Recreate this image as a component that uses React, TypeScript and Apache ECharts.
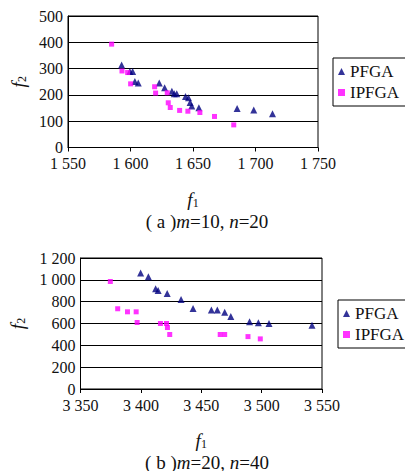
import React, { useEffect, useRef } from "react";
import * as echarts from "echarts";

// Chart (a): m=10, n=20
const aPFGA: [number, number][] = [
  [1592.9, 314], [1599.5, 289], [1601.7, 289], [1603.5, 251], [1606.2, 245],
  [1623.0, 245], [1627.3, 227], [1633.1, 214], [1635.0, 204], [1637.0, 204],
  [1644.0, 194], [1646.4, 189], [1647.7, 171], [1649.0, 158], [1654.7, 151],
  [1685.3, 148], [1698.6, 143], [1713.6, 128],
];
const aIPFGA: [number, number][] = [
  [1584.9, 393], [1593.2, 291], [1597.7, 285], [1600.1, 242], [1619.3, 231],
  [1620.1, 207], [1629.4, 208], [1630.2, 170], [1631.8, 152], [1639.3, 141],
  [1645.9, 138], [1655.5, 133], [1667.2, 118], [1682.6, 86],
];

// Chart (b): m=20, n=40
const bPFGA: [number, number][] = [
  [3399.8, 1062], [3406.2, 1028], [3412.2, 918], [3414.3, 903], [3421.8, 875],
  [3433.3, 820], [3443.2, 737], [3458.4, 723], [3463.3, 723], [3469.4, 704],
  [3474.5, 664], [3490.0, 615], [3497.3, 606], [3506.1, 600], [3541.7, 585],
];
const bIPFGA: [number, number][] = [
  [3374.7, 985], [3380.8, 735], [3388.9, 707], [3396.1, 707], [3396.9, 609],
  [3416.2, 600], [3421.2, 600], [3422.0, 563], [3423.9, 499], [3465.7, 499],
  [3469.4, 499], [3488.7, 480], [3498.9, 459],
];

const seriesNames = ["PFGA", "IPFGA"];
const xRangeA = [1550, 1750];
const yRangeA = [0, 500];
const xRangeB = [3350, 3550];
const yRangeB = [0, 1200];
const captionA = "( a ){i|m}=10, {i|n}=20";
const captionB = "( b ){i|m}=20, {i|n}=40";

const FONT = "Liberation Serif";
const TXT = "#111";
const NAVY = "#000080";
const MAGENTA = "#ff00ff";

const fmt = (v: number) => String(v).replace(/\B(?=(\d{3})+(?!\d))/g, " ");

const nameRich = {
  i: { fontStyle: "italic", fontFamily: FONT, fontSize: 19, color: TXT, lineHeight: 20 },
  s: { fontFamily: FONT, fontSize: 12, color: TXT, lineHeight: 20, padding: [7, 0, 0, 0] },
};

function xAxis(gridIndex: number, range: number[], gap: number) {
  return {
    type: "value",
    gridIndex,
    min: range[0],
    max: range[1],
    interval: 50,
    name: "{i|f}{s|1}",
    nameLocation: "middle",
    nameGap: gap,
    nameTextStyle: { fontFamily: FONT, rich: nameRich },
    axisLine: { show: true, lineStyle: { color: "#000", width: 1 } },
    axisTick: { show: true, length: 4, lineStyle: { color: "#000" } },
    axisLabel: { formatter: fmt, fontFamily: FONT, fontSize: 16, color: TXT, margin: 8 },
    splitLine: { show: false },
  };
}

function yAxis(gridIndex: number, range: number[], interval: number, gap: number) {
  return {
    type: "value",
    gridIndex,
    min: range[0],
    max: range[1],
    interval,
    name: "{i|f}{s|2}",
    nameLocation: "middle",
    nameRotate: 90,
    nameGap: gap,
    nameTextStyle: { fontFamily: FONT, rich: nameRich },
    axisLine: { show: true, lineStyle: { color: "#000", width: 1 } },
    axisTick: { show: false },
    axisLabel: { formatter: fmt, fontFamily: FONT, fontSize: 16, color: TXT, margin: 5 },
    splitLine: { show: true, lineStyle: { color: "#000", width: 1 } },
  };
}

function legend(left: number, top: number) {
  return {
    orient: "vertical",
    left,
    top,
    data: seriesNames,
    backgroundColor: "#fff",
    borderColor: "#000",
    borderWidth: 1,
    borderRadius: 0,
    padding: [5, 12, 5, 5],
    itemWidth: 7,
    itemHeight: 7,
    itemGap: 4,
    textStyle: { fontFamily: FONT, fontSize: 17, color: TXT, lineHeight: 17 },
    selectedMode: false,
  };
}

export default function App() {
  const ref = useRef<HTMLDivElement>(null);
  useEffect(() => {
    document.body.style.margin = "0";
    if (!ref.current) return;
    const chart = echarts.init(ref.current, null, { renderer: "svg" });
    const tri = { symbol: "triangle", symbolSize: 7, itemStyle: { color: NAVY } };
    const sq = { symbol: "rect", symbolSize: 5, itemStyle: { color: MAGENTA } };
    const captionStyle = (text: string) => ({
      text,
      align: "center",
      verticalAlign: "middle",
      fontFamily: FONT,
      fontSize: 19,
      fill: TXT,
      rich: { i: { fontStyle: "italic", fontFamily: FONT, fontSize: 19, fill: TXT } },
    });
    chart.setOption({
      animation: false,
      backgroundColor: "#fff",
      textStyle: { fontFamily: FONT },
      grid: [
        { left: 68, top: 16, width: 250, height: 131.5, show: true, borderColor: "#000", borderWidth: 1, backgroundColor: "transparent" },
        { left: 73, top: 258, width: 249, height: 131, show: true, borderColor: "#000", borderWidth: 1, backgroundColor: "transparent" },
      ],
      xAxis: [xAxis(0, xRangeA, 42), xAxis(1, xRangeB, 41)],
      yAxis: [yAxis(0, yRangeA, 100, 36), yAxis(1, yRangeB, 200, 53)],
      legend: [legend(333, 58), legend(338, 300)],
      series: [
        { name: seriesNames[0], type: "scatter", xAxisIndex: 0, yAxisIndex: 0, data: aPFGA, ...tri },
        { name: seriesNames[1], type: "scatter", xAxisIndex: 0, yAxisIndex: 0, data: aIPFGA, ...sq },
        { name: seriesNames[0], type: "scatter", xAxisIndex: 1, yAxisIndex: 1, data: bPFGA, ...tri },
        { name: seriesNames[1], type: "scatter", xAxisIndex: 1, yAxisIndex: 1, data: bIPFGA, ...sq },
      ],
      graphic: [
        { type: "text", x: 207, y: 221, style: captionStyle(captionA) },
        { type: "text", x: 207, y: 462, style: captionStyle(captionB) },
      ],
    });
    return () => chart.dispose();
  }, []);
  return <div ref={ref} style={{ width: 405, height: 471 }} />;
}
